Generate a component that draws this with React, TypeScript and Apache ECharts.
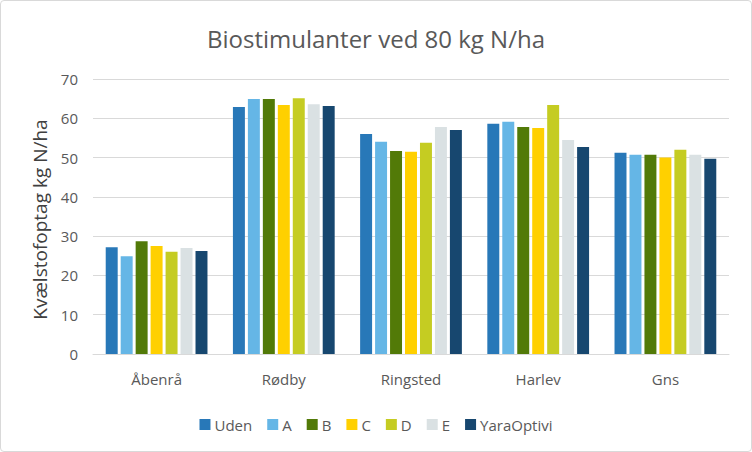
import React, { useEffect, useRef } from "react";
import * as echarts from "echarts";

const categories = ["Åbenrå", "Rødby", "Ringsted", "Harlev", "Gns"];
const seriesNames = ["Uden", "A", "B", "C", "D", "E", "YaraOptivi"];
const uden = [27.2, 62.9, 56.0, 58.6, 51.2];
const a = [24.9, 64.9, 54.0, 59.1, 50.7];
const b = [28.7, 64.9, 51.7, 57.8, 50.7];
const c = [27.5, 63.4, 51.5, 57.5, 50.0];
const d = [26.0, 65.1, 53.8, 63.4, 52.0];
const e = [27.0, 63.6, 57.8, 54.5, 50.7];
const yara = [26.2, 63.1, 57.0, 52.7, 49.7];
const seriesValues = [uden, a, b, c, d, e, yara];
const colors = ["#2878B8", "#65B6E6", "#527A08", "#FFD000", "#C5CC22", "#DAE1E3", "#17476F"];

export default function App() {
  const ref = useRef<HTMLDivElement>(null);
  useEffect(() => {
    document.body.style.margin = "0";
    const chart = echarts.init(ref.current!, null, { renderer: "svg" });
    const font = "'Open Sans', 'Liberation Sans', sans-serif";
    chart.setOption({
      animation: false,
      textStyle: { fontFamily: font },
      title: {
        text: "Biostimulanter ved 80 kg N/ha",
        left: "center",
        top: 20,
        textStyle: { fontSize: 24, fontWeight: "normal", color: "#595959", fontFamily: font },
      },
      legend: {
        top: 411,
        left: "center",
        itemWidth: 11,
        itemHeight: 11,
        itemGap: 15,
        icon: "rect",
        textStyle: { fontSize: 15, color: "#595959", fontFamily: font, padding: [0, 0, 0, -1] },
        data: seriesNames,
      },
      grid: { left: 92, right: 22, top: 78, bottom: 97, containLabel: false },
      xAxis: {
        type: "category",
        data: categories,
        axisLine: { lineStyle: { color: "#d9d9d9", width: 1 } },
        axisTick: { show: false },
        axisLabel: { fontSize: 15, color: "#595959", margin: 17 },
      },
      yAxis: {
        type: "value",
        min: 0,
        max: 70,
        interval: 10,
        name: "Kvælstofoptag kg N/ha",
        nameLocation: "middle",
        nameGap: 37,
        nameTextStyle: { fontSize: 19, color: "#404040", padding: [0, 6, 0, 0] },
        axisLabel: { fontSize: 15, color: "#595959", margin: 15 },
        splitLine: { lineStyle: { color: "#d9d9d9", width: 1 } },
        axisLine: { show: false },
        axisTick: { show: false },
      },
      series: seriesNames.map((n, i) => ({
        name: n,
        type: "bar",
        data: seriesValues[i],
        itemStyle: { color: colors[i] },
        barGap: "25%",
        barCategoryGap: "20%",
      })),
    });
    return () => chart.dispose();
  }, []);
  return (
    <div
      ref={ref}
      style={{ width: 752, height: 452, boxSizing: "border-box", border: "1px solid #d9d9d9", borderRadius: 4 }}
    />
  );
}
